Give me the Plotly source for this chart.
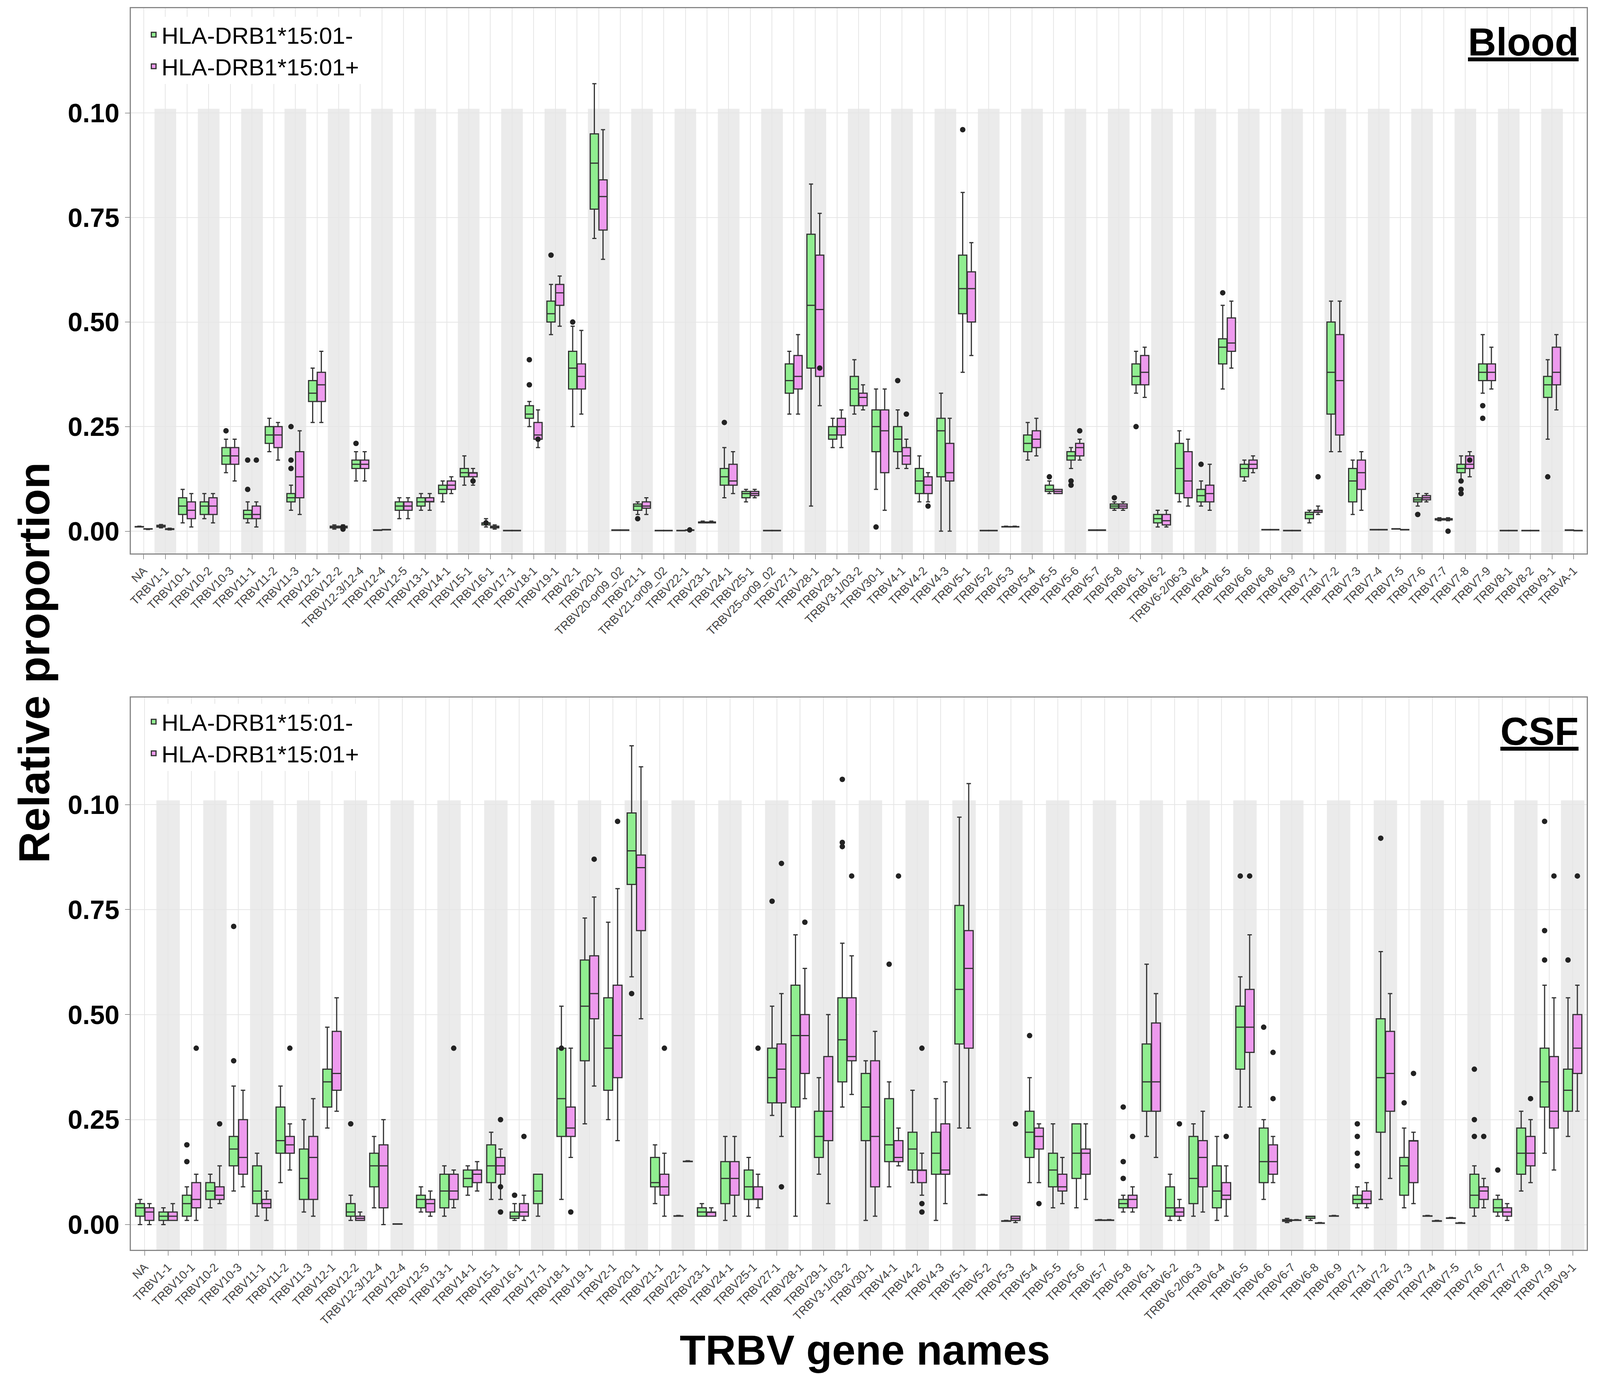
import plotly.graph_objects as go

# ---------------- DATA (plot units: tick label "0.10" sits at 1.0) ----------------
blood_cats = ["NA","TRBV1-1","TRBV10-1","TRBV10-2","TRBV10-3","TRBV11-1","TRBV11-2","TRBV11-3","TRBV12-1","TRBV12-2",
 "TRBV12-3/12-4","TRBV12-4","TRBV12-5","TRBV13-1","TRBV14-1","TRBV15-1","TRBV16-1","TRBV17-1","TRBV18-1","TRBV19-1",
 "TRBV2-1","TRBV20-1","TRBV20-or09_02","TRBV21-1","TRBV21-or09_02","TRBV22-1","TRBV23-1","TRBV24-1","TRBV25-1","TRBV25-or09_02",
 "TRBV27-1","TRBV28-1","TRBV29-1","TRBV3-1/03-2","TRBV30-1","TRBV4-1","TRBV4-2","TRBV4-3","TRBV5-1","TRBV5-2",
 "TRBV5-3","TRBV5-4","TRBV5-5","TRBV5-6","TRBV5-7","TRBV5-8","TRBV6-1","TRBV6-2","TRBV6-2/06-3","TRBV6-4",
 "TRBV6-5","TRBV6-6","TRBV6-8","TRBV6-9","TRBV7-1","TRBV7-2","TRBV7-3","TRBV7-4","TRBV7-5","TRBV7-6",
 "TRBV7-7","TRBV7-8","TRBV7-9","TRBV8-1","TRBV8-2","TRBV9-1","TRBVA-1"]
# [low, q1, median, q3, high]
blood_neg = [[.01,.01,.01,.011,.012],[.008,.01,.012,.014,.016],[.02,.04,.06,.08,.10],[.03,.04,.06,.07,.09],[.14,.16,.18,.20,.22],
 [.02,.03,.04,.05,.07],[.19,.21,.23,.25,.27],[.05,.07,.08,.09,.11],[.26,.31,.33,.36,.39],[.005,.008,.01,.012,.015],
 [.12,.15,.16,.17,.19],[.002,.002,.002,.003,.003],[.03,.05,.06,.07,.08],[.05,.06,.07,.08,.09],[.07,.09,.10,.11,.12],
 [.11,.13,.14,.15,.18],[.01,.015,.02,.02,.03],[.001,.001,.001,.002,.002],[.25,.27,.28,.30,.31],[.47,.50,.52,.55,.59],
 [.25,.34,.39,.43,.49],[.70,.77,.88,.95,1.07],[.002,.002,.002,.003,.003],[.04,.05,.06,.065,.07],[.001,.001,.001,.002,.002],
 [.001,.001,.001,.002,.002],[.02,.02,.02,.022,.024],[.08,.11,.13,.15,.20],[.07,.08,.09,.095,.10],[.001,.001,.001,.002,.002],
 [.28,.33,.36,.40,.43],[.06,.39,.54,.71,.83],[.20,.22,.23,.25,.27],[.28,.30,.34,.37,.41],[.10,.19,.25,.29,.34],
 [.15,.19,.22,.25,.29],[.07,.09,.12,.15,.18],[.00,.13,.24,.27,.33],[.38,.52,.58,.66,.81],[.001,.001,.001,.002,.002],
 [.01,.01,.01,.011,.012],[.17,.19,.21,.23,.26],[.09,.095,.10,.11,.12],[.15,.17,.18,.19,.20],[.002,.002,.002,.003,.003],
 [.05,.055,.06,.065,.07],[.33,.35,.37,.40,.43],[.01,.02,.03,.04,.05],[.07,.09,.15,.21,.24],[.06,.07,.085,.10,.12],
 [.34,.40,.44,.46,.54],[.12,.13,.15,.16,.17],[.003,.003,.003,.004,.004],[.001,.001,.001,.002,.002],[.02,.03,.04,.045,.05],
 [.19,.28,.38,.50,.55],[.04,.07,.12,.15,.17],[.003,.003,.003,.004,.004],[.005,.005,.005,.006,.006],[.06,.07,.075,.08,.09],
 [.025,.027,.03,.03,.032],[.12,.14,.15,.16,.18],[.33,.36,.38,.40,.47],[.001,.001,.001,.002,.002],[.001,.001,.001,.002,.002],
 [.22,.32,.35,.37,.41],[.002,.002,.002,.003,.003]]
blood_pos = [[.004,.005,.005,.006,.006],[.003,.004,.005,.006,.007],[.01,.03,.05,.07,.09],[.02,.04,.06,.08,.09],[.12,.16,.18,.20,.22],
 [.01,.03,.04,.06,.07],[.17,.20,.23,.25,.26],[.04,.08,.13,.19,.24],[.26,.31,.35,.38,.43],[.005,.008,.01,.012,.015],
 [.12,.15,.16,.17,.19],[.003,.003,.003,.004,.004],[.03,.05,.06,.07,.08],[.05,.07,.07,.08,.09],[.09,.10,.11,.12,.13],
 [.11,.13,.14,.14,.15],[.005,.008,.01,.012,.015],[.001,.001,.001,.002,.002],[.20,.22,.23,.26,.29],[.49,.54,.57,.59,.61],
 [.28,.34,.37,.40,.48],[.65,.72,.80,.84,.96],[.002,.002,.002,.003,.003],[.04,.055,.06,.07,.08],[.001,.001,.001,.002,.002],
 [.002,.002,.002,.003,.003],[.02,.02,.02,.022,.024],[.09,.11,.12,.16,.19],[.08,.085,.09,.095,.10],[.001,.001,.001,.002,.002],
 [.28,.34,.37,.42,.47],[.30,.37,.53,.66,.76],[.20,.23,.25,.27,.29],[.29,.30,.32,.33,.35],[.05,.14,.24,.29,.34],
 [.15,.16,.18,.20,.22],[.07,.09,.11,.13,.14],[.00,.12,.14,.21,.27],[.42,.50,.58,.62,.69],[.001,.001,.001,.002,.002],
 [.01,.01,.01,.011,.012],[.18,.20,.22,.24,.27],[.09,.09,.095,.10,.10],[.17,.18,.20,.21,.22],[.002,.002,.002,.003,.003],
 [.05,.055,.06,.065,.07],[.32,.35,.38,.42,.44],[.01,.015,.025,.04,.05],[.06,.08,.12,.19,.22],[.05,.07,.09,.11,.16],
 [.39,.43,.45,.51,.55],[.14,.15,.16,.17,.18],[.003,.003,.003,.004,.004],[.001,.001,.001,.002,.002],[.04,.045,.05,.05,.06],
 [.19,.23,.36,.47,.55],[.05,.10,.14,.17,.19],[.003,.003,.003,.004,.004],[.003,.003,.003,.004,.004],[.07,.075,.08,.085,.09],
 [.025,.027,.03,.03,.032],[.13,.15,.16,.18,.19],[.34,.36,.38,.40,.44],[.001,.001,.001,.002,.002],[.001,.001,.001,.002,.002],
 [.29,.35,.38,.44,.47],[.001,.001,.001,.002,.002]]
blood_neg_out = {"TRBV10-3":[.24],"TRBV11-1":[.10,.17],"TRBV11-3":[.15,.17,.25],"TRBV12-3/12-4":[.21],"TRBV16-1":[.02],
 "TRBV18-1":[.35,.41],"TRBV19-1":[.66],"TRBV2-1":[.50],"TRBV21-1":[.03],"TRBV24-1":[.26],"TRBV30-1":[.01],
 "TRBV4-1":[.36],"TRBV5-1":[.96],"TRBV5-5":[.13],"TRBV5-6":[.11,.12],"TRBV5-8":[.08],"TRBV6-1":[.25],"TRBV6-4":[.16],
 "TRBV6-5":[.57],"TRBV7-6":[.04],"TRBV7-8":[.09,.10,.12],"TRBV7-9":[.30,.27],"TRBV9-1":[.13]}
blood_pos_out = {"TRBV11-1":[.17],"TRBV12-2":[.01,.005],"TRBV15-1":[.12],"TRBV18-1":[.22],"TRBV28-1":[.39],
 "TRBV4-1":[.28],"TRBV4-2":[.06],"TRBV5-6":[.24],"TRBV7-1":[.13],"TRBV7-7":[.0],"TRBV7-8":[.17],"TRBV22-1":[.003]}

csf_cats = ["NA","TRBV1-1","TRBV10-1","TRBV10-2","TRBV10-3","TRBV11-1","TRBV11-2","TRBV11-3","TRBV12-1","TRBV12-2",
 "TRBV12-3/12-4","TRBV12-4","TRBV12-5","TRBV13-1","TRBV14-1","TRBV15-1","TRBV16-1","TRBV17-1","TRBV18-1","TRBV19-1",
 "TRBV2-1","TRBV20-1","TRBV21-1","TRBV22-1","TRBV23-1","TRBV24-1","TRBV25-1","TRBV27-1","TRBV28-1","TRBV29-1",
 "TRBV3-1/03-2","TRBV30-1","TRBV4-1","TRBV4-2","TRBV4-3","TRBV5-1","TRBV5-2","TRBV5-3","TRBV5-4","TRBV5-5",
 "TRBV5-6","TRBV5-7","TRBV5-8","TRBV6-1","TRBV6-2","TRBV6-2/06-3","TRBV6-4","TRBV6-5","TRBV6-6","TRBV6-7",
 "TRBV6-8","TRBV6-9","TRBV7-1","TRBV7-2","TRBV7-3","TRBV7-4","TRBV7-5","TRBV7-6","TRBV7-7","TRBV7-8",
 "TRBV7-9","TRBV9-1"]
csf_neg = [[0,.02,.04,.05,.06],[0,.01,.02,.03,.04],[.01,.02,.05,.07,.09],[.04,.06,.08,.10,.12],[.08,.14,.18,.21,.33],
 [.02,.05,.08,.14,.17],[.10,.17,.20,.28,.33],[.03,.06,.11,.18,.25],[.23,.28,.34,.37,.47],[.01,.02,.03,.05,.07],
 [.04,.09,.14,.17,.21],[.001,.001,.001,.002,.002],[.03,.04,.06,.07,.09],[.02,.04,.08,.12,.14],[.07,.09,.11,.13,.14],
 [.06,.10,.14,.19,.22],[.01,.015,.02,.03,.05],[.02,.05,.08,.12,.12],[.06,.21,.30,.42,.52],[.24,.39,.52,.63,.73],
 [.25,.32,.42,.54,.72],[.59,.81,.89,.98,1.14],[.05,.09,.10,.16,.19],[.02,.02,.02,.021,.022],[.02,.02,.03,.04,.05],
 [.01,.05,.11,.15,.21],[.02,.06,.09,.13,.16],[.26,.29,.35,.42,.52],[.02,.28,.45,.57,.69],[.12,.16,.21,.27,.35],
 [.28,.34,.44,.54,.67],[.01,.20,.28,.36,.39],[.09,.15,.19,.30,.34],[.10,.13,.18,.22,.32],[.01,.12,.17,.22,.30],
 [.23,.43,.56,.76,.97],[.07,.07,.07,.071,.072],[.008,.008,.008,.009,.01],[.10,.16,.22,.27,.35],[.04,.09,.13,.17,.24],
 [.04,.11,.17,.24,.24],[.01,.01,.01,.011,.012],[.03,.04,.05,.06,.07],[.21,.27,.34,.43,.62],[.01,.02,.04,.09,.12],
 [.02,.05,.11,.21,.24],[.01,.04,.08,.14,.21],[.28,.37,.47,.52,.59],[.06,.10,.15,.23,.25],[.005,.008,.01,.012,.015],
 [.01,.015,.02,.02,.02],[.02,.02,.02,.021,.022],[.04,.05,.06,.07,.09],[.06,.22,.35,.49,.65],[.04,.07,.14,.16,.23],
 [.02,.02,.02,.021,.022],[.015,.015,.015,.016,.017],[.02,.04,.07,.12,.14],[.02,.03,.04,.06,.07],[.08,.12,.17,.23,.27],
 [.17,.28,.34,.42,.57],[.21,.27,.32,.37,.54]]
csf_pos = [[0,.01,.03,.04,.05],[.01,.01,.02,.03,.05],[.01,.04,.06,.10,.12],[.05,.06,.07,.09,.14],[.09,.12,.16,.25,.32],
 [.01,.04,.05,.06,.08],[.13,.17,.19,.21,.24],[.02,.06,.16,.21,.30],[.27,.32,.36,.46,.54],[.01,.01,.015,.02,.03],
 [0,.04,.14,.19,.25],None,[.02,.03,.05,.06,.08],[.04,.06,.08,.12,.13],[.08,.10,.12,.13,.15],
 [.06,.12,.14,.16,.18],[.01,.02,.03,.05,.07],None,[.16,.21,.23,.28,.42],[.33,.49,.55,.64,.78],
 [.20,.35,.45,.57,.80],[.49,.70,.85,.88,1.09],[.02,.07,.09,.12,.17],[.15,.15,.15,.151,.152],[.02,.02,.03,.03,.04],
 [.02,.07,.11,.15,.21],[.04,.06,.06,.09,.12],[.21,.29,.37,.43,.55],[.30,.36,.45,.50,.61],[.05,.20,.27,.40,.50],
 [.31,.39,.40,.54,.64],[.02,.09,.21,.39,.46],[.14,.15,.16,.20,.23],[.07,.10,.13,.13,.17],[.05,.12,.13,.24,.34],
 [.23,.42,.61,.70,1.05],None,[.005,.01,.015,.02,.02],[.10,.18,.21,.23,.24],[.05,.08,.09,.12,.16],
 [.06,.12,.17,.18,.24],[.01,.01,.01,.011,.012],[.03,.04,.06,.07,.09],[.16,.27,.34,.48,.55],[.01,.02,.03,.04,.06],
 [.03,.09,.16,.20,.27],[.02,.06,.07,.10,.14],[.28,.41,.47,.56,.69],[.10,.12,.15,.19,.21],[.01,.01,.01,.011,.012],
 [.003,.003,.003,.004,.005],None,[.04,.05,.06,.08,.10],[.11,.27,.36,.46,.55],[.05,.10,.20,.20,.22],
 [.008,.008,.008,.009,.01],[.003,.003,.003,.004,.005],[.04,.06,.08,.09,.11],[.01,.02,.03,.04,.05],[.10,.14,.17,.21,.25],
 [.13,.23,.27,.40,.54],[.27,.36,.42,.50,.57]]
csf_neg_out = {"TRBV10-1":[.15,.19],"TRBV10-3":[.39,.71],"TRBV12-2":[.24],"TRBV16-1":[.07],"TRBV18-1":[.42],
 "TRBV20-1":[.55],"TRBV27-1":[.77],"TRBV3-1/03-2":[.90,.91,1.06],"TRBV4-1":[.62],"TRBV5-4":[.45],
 "TRBV5-8":[.11,.15,.28],"TRBV6-5":[.83],"TRBV6-6":[.47],"TRBV7-1":[.14,.17,.21,.24],"TRBV7-2":[.92],"TRBV7-3":[.29],
 "TRBV7-6":[.21,.25,.37],"TRBV7-7":[.13],"TRBV7-9":[.63,.70,.96],"TRBV9-1":[.63]}
csf_pos_out = {"TRBV10-1":[.42],"TRBV10-2":[.24],"TRBV11-2":[.42],"TRBV13-1":[.42],"TRBV15-1":[.03,.09,.25],
 "TRBV16-1":[.21],"TRBV18-1":[.03],"TRBV19-1":[.87],"TRBV2-1":[.96],"TRBV21-1":[.42],"TRBV25-1":[.42],
 "TRBV27-1":[.09,.86],"TRBV28-1":[.72],"TRBV3-1/03-2":[.83],"TRBV4-1":[.83],"TRBV4-2":[.03,.05,.42],"TRBV5-4":[.05],
 "TRBV5-3":[.24],"TRBV5-8":[.21],"TRBV6-2":[.24],"TRBV6-4":[.21],"TRBV6-5":[.83],"TRBV6-6":[.30,.41],"TRBV7-3":[.36],
 "TRBV7-6":[.21],"TRBV7-8":[.30],"TRBV7-9":[.83],"TRBV9-1":[.83]}

tick_vals = [0, 0.25, 0.5, 0.75, 1.0]
tick_text = ["0.00", "0.25", "0.50", "0.75", "0.10"]
series_names = ["HLA-DRB1*15:01-", "HLA-DRB1*15:01+"]
colors = ["#90EE90", "#EE9AEE"]

# ---------------- FIGURE ----------------
fig = go.Figure()
panels = [
    dict(cats=blood_cats, neg=blood_neg, pos=blood_pos, nout=blood_neg_out, pout=blood_pos_out,
         xa="x", ya="y", ydom=[1 - 523/1306, 1 - 5/1306], label="Blood", legend="legend"),
    dict(cats=csf_cats, neg=csf_neg, pos=csf_pos, nout=csf_neg_out, pout=csf_pos_out,
         xa="x2", ya="y2", ydom=[1 - 1185/1306, 1 - 660/1306], label="CSF", legend="legend2"),
]
xdom = [123/1568, 1558/1568]
shapes, annotations = [], []
for p_i, p in enumerate(panels):
    cats = p["cats"]
    for s_i, (stats, outs, off) in enumerate([(p["neg"], p["nout"], -0.2), (p["pos"], p["pout"], 0.2)]):
        xs, lo, q1, md, q3, hi = [], [], [], [], [], []
        for i, st in enumerate(stats):
            if st is None:
                continue
            xs.append(i + off); lo.append(st[0]); q1.append(st[1]); md.append(st[2]); q3.append(st[3]); hi.append(st[4])
        fig.add_trace(go.Box(x=xs, q1=q1, median=md, q3=q3, lowerfence=lo, upperfence=hi,
                             width=0.38, fillcolor=colors[s_i], line=dict(color="#333333", width=3),
                             name=series_names[s_i], xaxis=p["xa"], yaxis=p["ya"], legend=p["legend"],
                             boxpoints=False, hoverinfo="skip"))
        ox, oy = [], []
        for c, vals in outs.items():
            i = cats.index(c)
            for v in vals:
                ox.append(i + off); oy.append(v)
        fig.add_trace(go.Scatter(x=ox, y=oy, mode="markers", marker=dict(color="#222222", size=14),
                                 showlegend=False, xaxis=p["xa"], yaxis=p["ya"]))
    for i in range(1, len(cats), 2):
        shapes.append(dict(type="rect", xref=p["xa"], yref=p["ya"], x0=i - 0.5, x1=i + 0.5, y0=-0.2, y1=1.01,
                           fillcolor="#EBEBEB", line=dict(width=0), layer="below"))
    annotations.append(dict(xref=f"{p['xa']} domain", yref=f"{p['ya']} domain", x=0.995, y=0.98,
                            xanchor="right", yanchor="top", showarrow=False,
                            text=f"<b><u>{p['label']}</u></b>", font=dict(size=100, color="black")))

axis_common = dict(showline=True, linecolor="#888888", linewidth=3, mirror=True, zeroline=False)
xcommon = dict(tickmode="array", tickangle=-45, tickfont=dict(size=30, color="#444444"),
               showgrid=True, gridcolor="#E6E6E6", gridwidth=2, ticks="outside", ticklen=12, tickcolor="#444",
               domain=xdom, **axis_common)
ycommon = dict(tickvals=tick_vals, ticktext=tick_text,
               tickfont=dict(size=68, color="black", family="Liberation Sans", weight="bold"),
               showgrid=True, gridcolor="#E6E6E6", gridwidth=2, ticks="outside", ticklen=12, tickcolor="#444",
               **axis_common)
fig.update_layout(
    autosize=True, margin=dict(l=0, r=0, t=0, b=0), plot_bgcolor="white", paper_bgcolor="white",
    font=dict(family="Liberation Sans"), showlegend=True,
    xaxis=dict(tickvals=list(range(len(blood_cats))), ticktext=blood_cats, range=[-0.6, len(blood_cats) - 0.4],
               anchor="y", **xcommon),
    xaxis2=dict(tickvals=list(range(len(csf_cats))), ticktext=csf_cats, range=[-0.6, len(csf_cats) - 0.4],
                anchor="y2", **xcommon),
    yaxis=dict(domain=panels[0]["ydom"], range=[-0.053, 1.25], anchor="x", **ycommon),
    yaxis2=dict(domain=panels[1]["ydom"], range=[-0.06, 1.255], anchor="x2", **ycommon),
    legend=dict(x=0.088, y=0.99, xanchor="left", yanchor="top", bgcolor="white",
                font=dict(size=60, color="black"), tracegroupgap=10),
    legend2=dict(x=0.088, y=0.49, xanchor="left", yanchor="top", bgcolor="white",
                 font=dict(size=60, color="black"), tracegroupgap=10),
    shapes=shapes,
)
annotations.append(dict(xref="paper", yref="paper", x=0.002, y=0.52, xanchor="left", yanchor="middle",
                        text="<b>Relative proportion</b>", textangle=-90, showarrow=False,
                        font=dict(size=112, color="black")))
annotations.append(dict(xref="paper", yref="paper", x=0.54, y=0.002, xanchor="center", yanchor="bottom",
                        text="<b>TRBV gene names</b>", showarrow=False, font=dict(size=108, color="black")))
fig.update_layout(annotations=annotations)
fig.write_html("out.html", default_width="100%", default_height="100vh")
